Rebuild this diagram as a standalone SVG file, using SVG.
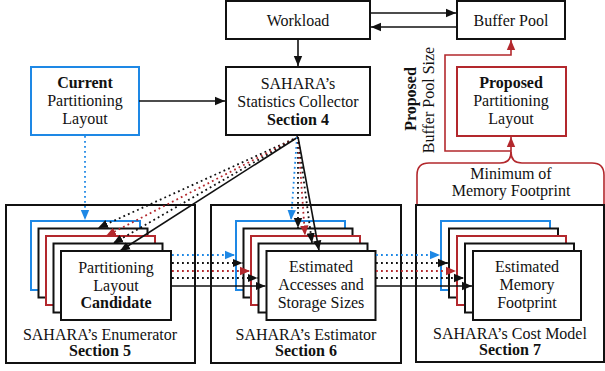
<svg xmlns="http://www.w3.org/2000/svg" width="605" height="371" viewBox="0 0 605 371" font-family="Liberation Serif, serif">
<style>
text{font-size:16px;fill:#111;text-anchor:middle}
.b{font-weight:bold}
.box{fill:#fff;stroke:#111;stroke-width:2}
.blue{fill:#fff;stroke:#1e88e5;stroke-width:2}
.red{fill:#fff;stroke:#b3282d;stroke-width:2}
.ln{fill:none;stroke:#111;stroke-width:1.6}
.dk{fill:none;stroke:#111;stroke-width:1.8;stroke-dasharray:1.8 3.2}
.db{fill:none;stroke:#1e88e5;stroke-width:1.8;stroke-dasharray:1.8 3.2}
.dr{fill:none;stroke:#b3282d;stroke-width:1.8;stroke-dasharray:1.8 3.2}
.rl{fill:none;stroke:#b3282d;stroke-width:1.6}
</style>
<defs>
<marker id="ak" markerUnits="userSpaceOnUse" markerWidth="10" markerHeight="10" viewBox="0 0 10 10" refX="10" refY="5" orient="auto"><path d="M0,0.8 L10,5 L0,9.2 Z" fill="#111"/></marker>
<marker id="ab" markerUnits="userSpaceOnUse" markerWidth="10" markerHeight="10" viewBox="0 0 10 10" refX="10" refY="5" orient="auto"><path d="M0,0.8 L10,5 L0,9.2 Z" fill="#1e88e5"/></marker>
<marker id="ar" markerUnits="userSpaceOnUse" markerWidth="10" markerHeight="10" viewBox="0 0 10 10" refX="10" refY="5" orient="auto"><path d="M0,0.8 L10,5 L0,9.2 Z" fill="#b3282d"/></marker>
</defs>

<g id="workload"><rect class="box" x="226" y="1" width="144" height="38"/><text x="298" y="26">Workload</text></g>
<g id="bufferpool"><rect class="box" x="457" y="1" width="108" height="38"/><text x="511" y="26">Buffer Pool</text></g>
<g id="collector"><rect class="box" x="226" y="67" width="144" height="68"/><text x="298" y="89">SAHARA’s</text><text x="298" y="107">Statistics Collector</text><text class="b" x="298" y="125">Section 4</text></g>
<g id="current"><rect class="blue" x="31" y="67" width="108" height="68"/><text class="b" x="85" y="88">Current</text><text x="85" y="106">Partitioning</text><text x="85" y="124">Layout</text></g>
<g id="proposed"><rect class="red" x="457" y="67" width="109" height="69"/><text class="b" x="511" y="88">Proposed</text><text x="511" y="106">Partitioning</text><text x="511" y="124">Layout</text></g>
<g id="proposed-size-label"><text class="b" transform="translate(416,99) rotate(-90)">Proposed</text><text transform="translate(434,100) rotate(-90)">Buffer Pool Size</text></g>
<g id="minimum"><path class="rl" d="M417,205 V175 Q417,163 429,163 H500 Q511,163 511,152 Q511,163 522,163 H592 Q604,163 604,175 V205"/><text x="511" y="179">Minimum of</text><text x="511" y="196">Memory Footprint</text></g>

<g id="enumerator"><rect class="box" x="6" y="205" width="189" height="158"/>
<rect class="blue" x="31" y="221" width="109" height="69"/>
<rect class="box" x="38.5" y="228.5" width="109" height="69"/>
<rect class="red" x="46" y="236" width="109" height="69"/>
<rect class="box" x="53.5" y="243.5" width="109" height="69"/>
<rect class="box" x="61" y="251" width="110" height="69"/>
<text x="116" y="273">Partitioning</text><text x="116" y="291">Layout</text><text class="b" x="116" y="308">Candidate</text>
<text x="100" y="340">SAHARA’s Enumerator</text><text class="b" x="100" y="356">Section 5</text></g>

<g id="estimator"><rect class="box" x="211" y="205" width="190" height="158"/>
<rect class="blue" x="236" y="221" width="109" height="69"/>
<rect class="box" x="243.5" y="228.5" width="109" height="69"/>
<rect class="red" x="251" y="236" width="109" height="69"/>
<rect class="box" x="258.5" y="243.5" width="109" height="69"/>
<rect class="box" x="266.5" y="251" width="109" height="69"/>
<text x="321" y="272">Estimated</text><text x="321" y="290">Accesses and</text><text x="321" y="308">Storage Sizes</text>
<text x="306" y="340">SAHARA’s Estimator</text><text class="b" x="306" y="356">Section 6</text></g>

<g id="costmodel"><rect class="box" x="416" y="205" width="188" height="157"/>
<rect class="blue" x="441" y="221" width="109" height="69"/>
<rect class="box" x="449" y="228.5" width="109" height="69"/>
<rect class="red" x="457" y="236" width="109" height="69"/>
<rect class="box" x="465" y="243.5" width="109" height="69"/>
<rect class="box" x="473" y="251" width="108" height="69"/>
<text x="527" y="272">Estimated</text><text x="527" y="290">Memory</text><text x="527" y="308">Footprint</text>
<text x="510" y="339">SAHARA’s Cost Model</text><text class="b" x="510" y="355">Section 7</text></g>

<g id="connectors">
<path class="ln" d="M370,13 H456" marker-end="url(#ak)"/>
<path class="ln" d="M457,27 H371" marker-end="url(#ak)"/>
<path class="ln" d="M298,39 V66" marker-end="url(#ak)"/>
<path class="ln" d="M139,101 H225" marker-end="url(#ak)"/>
<path class="db" d="M85,136 V220" marker-end="url(#ab)"/>
<path class="rl" d="M511,153 V137" marker-end="url(#ar)"/>
<path class="rl" d="M511,151 H445 V55 H511 V40" marker-end="url(#ar)"/>
<path class="dk" d="M298,137 L98,228" marker-end="url(#ak)"/>
<path class="dr" d="M298,137 L106,236" marker-end="url(#ar)"/>
<path class="dk" d="M298,137 L113,243.5" marker-end="url(#ak)"/>
<path class="ln" d="M298,137 L120,251" marker-end="url(#ak)"/>
<path class="db" d="M297,137 L291,220" marker-end="url(#ab)"/>
<path class="dk" d="M298,137 L298,228" marker-end="url(#ak)"/>
<path class="dr" d="M298,137 L305,235.5" marker-end="url(#ar)"/>
<path class="dk" d="M298,137 L312,243" marker-end="url(#ak)"/>
<path class="ln" d="M298,137 L319,250.5" marker-end="url(#ak)"/>
<path class="db" d="M172,255 H235" marker-end="url(#ab)"/>
<path class="dk" d="M172,263 H242.5" marker-end="url(#ak)"/>
<path class="dr" d="M172,271 H250" marker-end="url(#ar)"/>
<path class="dk" d="M172,278 H257.5" marker-end="url(#ak)"/>
<path class="ln" d="M171,286 H265.5" marker-end="url(#ak)"/>
<path class="db" d="M376,255 H440" marker-end="url(#ab)"/>
<path class="dk" d="M376,263 H448" marker-end="url(#ak)"/>
<path class="dr" d="M376,271 H456" marker-end="url(#ar)"/>
<path class="dk" d="M376,278 H464" marker-end="url(#ak)"/>
<path class="ln" d="M375.5,286 H472" marker-end="url(#ak)"/>
</g>
</svg>
